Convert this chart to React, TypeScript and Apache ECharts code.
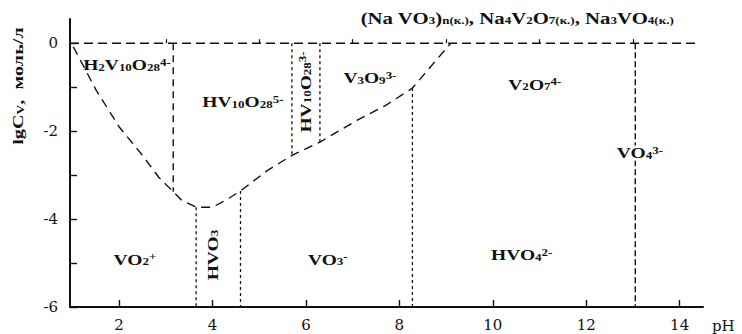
import React, { useEffect, useRef } from "react";
import * as echarts from "echarts";

const phMajorTicks = [2, 4, 6, 8, 10, 12, 14];
const phMinorTicks = [3, 5, 7, 9, 11, 13];
const lgMajorTicks = [0, -2, -4, -6];
const lgMinorTicks = [-1, -3, -5];

const saturationLine: number[][] = [[0.95, 0], [14.4, 0]];
const lowerBoundary: number[][] = [
  [1.02, -0.08], [1.5, -1.05], [2.0, -1.9], [2.5, -2.55], [2.85, -3.05],
  [3.16, -3.38], [3.35, -3.58], [3.65, -3.73], [4.0, -3.73], [4.3, -3.56],
  [4.6, -3.36], [5.17, -2.9], [5.7, -2.55], [6.3, -2.25], [7.1, -1.75],
  [7.7, -1.42], [8.28, -1.02], [9.1, 0],
];
const decavanadateSplit: number[][] = [[3.16, 0], [3.16, -3.38]];
const orthovanadateSplit: number[][] = [[13.05, 0], [13.05, -6]];
const dottedBoundaries: number[][][] = [
  [[3.65, -3.73], [3.65, -6]],
  [[4.6, -3.36], [4.6, -6]],
  [[5.7, 0], [5.7, -2.55]],
  [[6.3, 0], [6.3, -2.25]],
  [[8.28, -1.02], [8.28, -6]],
];

const speciesPh = [2.17, 4.65, 6.0, 7.37, 10.9, 13.15, 2.34, 4.01, 6.47, 10.62, 10.52];
const speciesLg = [-0.5, -1.34, -1.11, -0.8, -0.95, -2.5, -4.93, -4.82, -4.93, -4.82, 0.57];
const speciesText = [
  "H{sub|2}V{sub|10}O{sub|28}{sup|4-}",
  "HV{sub|10}O{sub|28}{sup|5-}",
  "HV{sub|10}O{sub|28}{sup|3-}",
  "V{sub|3}O{sub|9}{sup|3-}",
  "V{sub|2}O{sub|7}{sup|4-}",
  "VO{sub|4}{sup|3-}",
  "VO{sub|2}{sup|+}",
  "HVO{sub|3}",
  "VO{sub|3}{sup|-}",
  "HVO{sub|4}{sup|2-}",
  "(Na VO{sub|3}){sub|n(к.)}, Na{sub|4}V{sub|2}O{sub|7}{sub|(к.)}, Na{sub|3}VO{sub|4}{sub|(к.)}",
];
const speciesRotate = [0, 0, 90, 0, 0, 0, 0, 90, 0, 0, 0];

const FONT = "'Liberation Serif', 'DejaVu Serif', serif";
const TICK_FONT = "'DejaVu Serif', 'Liberation Serif', serif";
const INK = "#111";

const rich = {
  sub: { fontSize: 10, fontFamily: FONT, fontWeight: "bold", fill: INK, color: INK, verticalAlign: "bottom" },
  sup: { fontSize: 10, fontFamily: FONT, fontWeight: "bold", fill: INK, color: INK, verticalAlign: "top" },
};

function lineSeries(data: number[][], dash: number[], width = 1.4) {
  return {
    type: "line",
    data,
    symbol: "none",
    silent: true,
    lineStyle: { color: INK, width, type: dash },
    z: 3,
  };
}

export default function App() {
  const ref = useRef<HTMLDivElement>(null);
  useEffect(() => {
    if (!ref.current) return;
    const chart = echarts.init(ref.current, null, { renderer: "svg" });
    const xCommon = { type: "value", min: 0.95, max: 14.5, splitLine: { show: false } };
    chart.setOption({
      animation: false,
      backgroundColor: "#fff",
      grid: { left: 70, right: 39, top: 19, bottom: 27 },
      xAxis: [
        {
          ...xCommon,
          name: "pH",
          nameLocation: "end",
          nameGap: 9,
          nameTextStyle: { fontFamily: TICK_FONT, fontSize: 15, color: INK, verticalAlign: "top", padding: [11, 0, 0, 0] },
          axisLine: { show: true, onZero: false, lineStyle: { color: INK, width: 2 } },
          axisTick: { show: true, inside: true, length: 7, customValues: phMajorTicks, lineStyle: { color: INK, width: 1.4 } },
          axisLabel: { customValues: phMajorTicks, fontFamily: TICK_FONT, fontSize: 15, color: INK, margin: 10 },
        },
        {
          ...xCommon,
          position: "bottom",
          axisLine: { show: false },
          axisTick: { show: true, inside: true, length: 4, customValues: phMinorTicks, lineStyle: { color: INK, width: 1.2 } },
          axisLabel: { show: false },
        },
      ],
      yAxis: [
        {
          type: "value",
          min: -6,
          max: 0.55,
          splitLine: { show: false },
          axisLine: { show: true, onZero: false, lineStyle: { color: INK, width: 2 } },
          axisTick: { show: true, inside: true, length: 7, customValues: lgMajorTicks, lineStyle: { color: INK, width: 1.4 } },
          axisLabel: { customValues: lgMajorTicks, fontFamily: TICK_FONT, fontSize: 15, color: INK, margin: 12 },
        },
        {
          type: "value",
          min: -6,
          max: 0.55,
          position: "left",
          splitLine: { show: false },
          axisLine: { show: false },
          axisTick: { show: true, inside: true, length: 7, customValues: lgMinorTicks, lineStyle: { color: INK, width: 1.4 } },
          axisLabel: { show: false },
        },
      ],
      series: [
        lineSeries(saturationLine, [9, 5]),
        lineSeries(lowerBoundary, [9, 6]),
        lineSeries(decavanadateSplit, [7, 5]),
        lineSeries(orthovanadateSplit, [6, 3]),
        ...dottedBoundaries.map((seg) => lineSeries(seg, [3, 3], 1.3)),
      ],
    });

    const labelGraphics = speciesPh.map((ph, i) => {
      const [px, py] = chart.convertToPixel({ xAxisIndex: 0, yAxisIndex: 0 }, [ph, speciesLg[i]]) as number[];
      const isTop = i === speciesPh.length - 1;
      return {
        type: "text",
        x: px,
        y: py,
        rotation: (speciesRotate[i] * Math.PI) / 180,
        scaleX: 1.3,
        z: 10,
        style: {
          text: speciesText[i],
          rich,
          fontFamily: FONT,
          fontWeight: "bold",
          fontSize: isTop ? 16 : 15,
          fill: INK,
          align: "center",
          verticalAlign: "middle",
          backgroundColor: i === 5 ? "#fff" : undefined,
        },
      };
    });

    chart.setOption({
      graphic: [
        {
          type: "text",
          x: 18,
          y: 86,
          rotation: Math.PI / 2,
          scaleX: 1.35,
          style: {
            text: "lgC{sub|V},  моль/л",
            rich,
            fontFamily: FONT,
            fontWeight: "bold",
            fontSize: 15,
            fill: INK,
            align: "center",
            verticalAlign: "middle",
          },
        },
        ...labelGraphics,
      ],
    });
    return () => chart.dispose();
  }, []);
  return <div ref={ref} style={{ width: 742, height: 334, position: "absolute", left: 0, top: 0 }} />;
}
